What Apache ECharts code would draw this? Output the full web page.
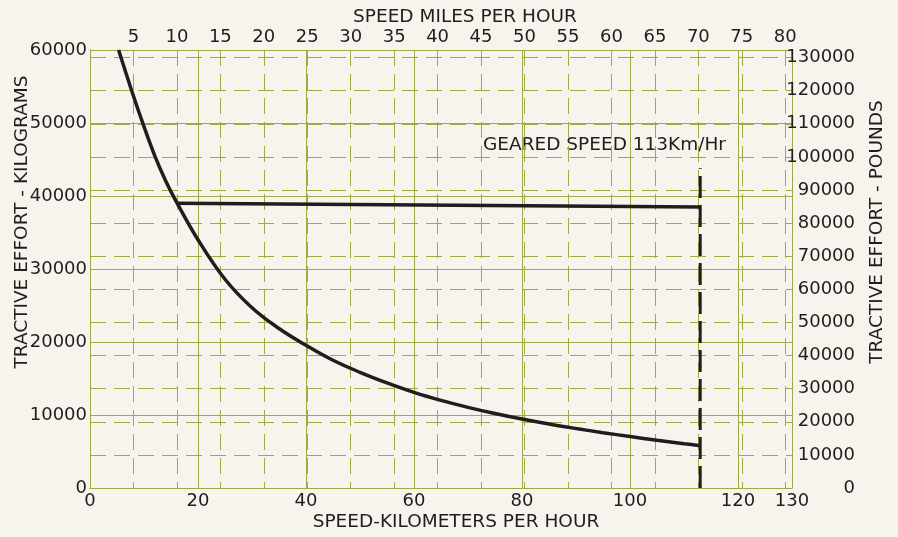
<!DOCTYPE html>
<html>
<head>
<meta charset="utf-8">
<script src="https://cdn.jsdelivr.net/npm/echarts@6/dist/echarts.min.js"></script>
<style>
html,body{margin:0;padding:0;background:#f6f4ec;}
#chart{width:898px;height:537px;}
</style>
</head>
<body>
<div id="chart"></div>
<script>
// ---- data ----
const curveSpeedKmh = [5.3, 8, 10, 12, 14, 16, 20, 25, 30, 35, 40, 45, 50, 55, 60, 65, 70, 75, 80, 85, 90, 95, 100, 105, 110, 113];
const curveEffortKg = [60000, 53800, 49500, 45500, 42100, 39200, 34000, 28600, 24700, 21850, 19550, 17500, 15850, 14400, 13100, 12000, 11050, 10200, 9440, 8760, 8150, 7580, 7050, 6540, 6070, 5800];
const limitSpeedKmh = [16, 113];
const limitEffortKg = [39000, 38500];
const gearedSpeedKmh = [113, 113];
const gearedLineKg = [0, 43800];
const kmhTicks = [0, 20, 40, 60, 80, 100, 120, 130];
const mphTicks = [5, 10, 15, 20, 25, 30, 35, 40, 45, 50, 55, 60, 65, 70, 75, 80];
const kgTicks = [0, 10000, 20000, 30000, 40000, 50000, 60000];
const lbTicks = [0, 10000, 20000, 30000, 40000, 50000, 60000, 70000, 80000, 90000, 100000, 110000, 120000, 130000];
const annotationText = 'GEARED SPEED 113Km/Hr';
const titles = {
  top: 'SPEED MILES PER HOUR',
  bottom: 'SPEED-KILOMETERS PER HOUR',
  left: 'TRACTIVE EFFORT - KILOGRAMS',
  right: 'TRACTIVE EFFORT - POUNDS'
};

const KM_PER_MILE = 1.609344;
const KG_PER_LB = 0.45359237;
const green = '#9faa44';
const ink = '#1e1e1e';
const font = 'DejaVu Sans';
const titleFont = '18.5px "DejaVu Sans"';

function inList(list, v) {
  return list.some(t => Math.abs(t - v) < 1e-6);
}
function zip(a, b) { return a.map((v, i) => [v, b[i]]); }

const chart = echarts.init(document.getElementById('chart'), null, {renderer: 'canvas'});
const labelStyle = {color: ink, fontSize: 18, fontFamily: font};

chart.setOption({
  backgroundColor: '#f6f4ec',
  animation: false,
  grid: {left: 90, right: 106, top: 50, bottom: 49, containLabel: false},
  xAxis: [
    {
      type: 'value', position: 'bottom', min: 0, max: 130, interval: 20,
      axisLine: {show: true, lineStyle: {color: green, width: 1}},
      axisTick: {show: false},
      axisLabel: Object.assign({margin: 4, showMaxLabel: true, showMinLabel: true,
        formatter: v => inList(kmhTicks, v) ? String(v) : ''}, labelStyle),
      splitLine: {show: true, lineStyle: {color: green, width: 1}}
    },
    {
      type: 'value', position: 'top', min: 0, max: 130 / KM_PER_MILE, interval: 5,
      axisLine: {show: true, lineStyle: {color: green, width: 1}},
      axisTick: {show: false},
      axisLabel: Object.assign({margin: 4, showMaxLabel: false,
        formatter: v => inList(mphTicks, v) ? String(Math.round(v)) : ''}, labelStyle),
      splitLine: {show: true, lineStyle: {color: green, width: 1, type: [16, 8]}}
    }
  ],
  yAxis: [
    {
      type: 'value', position: 'left', min: 0, max: 60000, interval: 10000,
      axisLine: {show: true, lineStyle: {color: green, width: 1}},
      axisTick: {show: false},
      axisLabel: Object.assign({margin: 3,
        formatter: v => inList(kgTicks, v) ? String(v) : ''}, labelStyle),
      splitLine: {show: true, lineStyle: {color: green, width: 1}}
    },
    {
      type: 'value', position: 'right', min: 0, max: 60000 / KG_PER_LB, interval: 10000,
      axisLine: {show: true, lineStyle: {color: green, width: 1}},
      axisTick: {show: false},
      axisLabel: Object.assign({margin: 63, align: 'right', showMaxLabel: false,
        formatter: v => inList(lbTicks, v) ? String(v) : ''}, labelStyle),
      splitLine: {show: true, lineStyle: {color: green, width: 1, type: [16, 8]}}
    }
  ],
  series: [
    {
      type: 'line', xAxisIndex: 0, yAxisIndex: 0, smooth: 0.4, showSymbol: false,
      data: zip(curveSpeedKmh, curveEffortKg),
      lineStyle: {color: ink, width: 3.5}, z: 5
    },
    {
      type: 'line', xAxisIndex: 0, yAxisIndex: 0, showSymbol: false,
      data: zip(limitSpeedKmh, limitEffortKg),
      lineStyle: {color: ink, width: 3.5}, z: 5
    },
    {
      type: 'line', xAxisIndex: 0, yAxisIndex: 0, showSymbol: false,
      data: zip(gearedSpeedKmh, gearedLineKg),
      lineStyle: {color: ink, width: 3, type: [22, 7]}, z: 5
    }
  ],
  graphic: [
    {type: 'text', x: 465, y: 17, style: {text: titles.top, fill: ink, font: titleFont, textAlign: 'center', textVerticalAlign: 'middle'}},
    {type: 'text', x: 456, y: 522, style: {text: titles.bottom, fill: ink, font: titleFont, textAlign: 'center', textVerticalAlign: 'middle'}},
    {type: 'text', x: 22, y: 222, rotation: Math.PI / 2, style: {text: titles.left, fill: ink, font: titleFont, textAlign: 'center', textVerticalAlign: 'middle'}},
    {type: 'text', x: 877, y: 232, rotation: Math.PI / 2, style: {text: titles.right, fill: ink, font: titleFont, textAlign: 'center', textVerticalAlign: 'middle'}},
    {type: 'text', x: 483, y: 145, style: {text: annotationText, fill: ink, font: titleFont, textAlign: 'left', textVerticalAlign: 'middle'}}
  ]
});
</script>
</body>
</html>
